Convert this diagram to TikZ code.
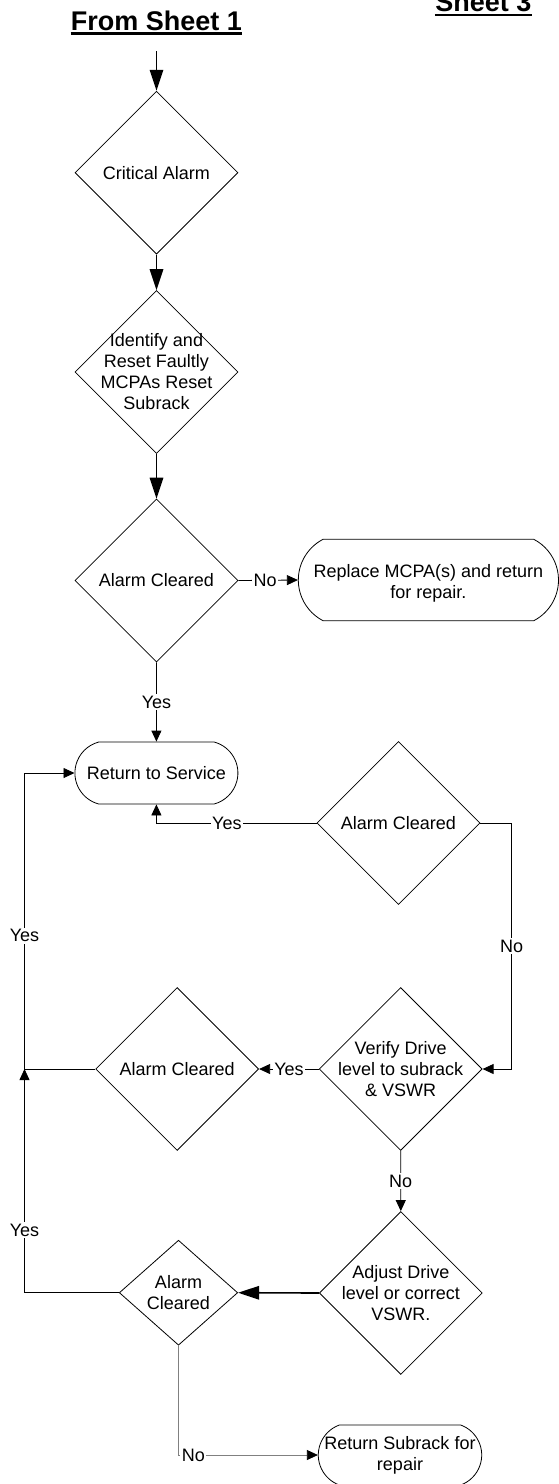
\documentclass[tikz,border=0pt]{standalone}
\usepackage{fontspec}
\setmainfont{Liberation Sans}
\usetikzlibrary{shapes.geometric,shapes.misc,arrows.meta}
\begin{document}
\begin{tikzpicture}[x=1pt,y=-1pt,
  line width=0.8pt,
  txt/.style={font=\fontsize{18}{21}\selectfont, align=center, inner sep=0pt},
  dia/.style={draw, diamond, inner sep=0pt, minimum width=#1, minimum height=#1},
  term/.style={draw, rounded rectangle, inner sep=0pt},
  lbl/.style={font=\fontsize{18}{21}\selectfont, fill=white, text=black, inner sep=1.5pt},
  arr/.style={-{Triangle[length=11pt,width=10pt]}},
  bigarr/.style={line width=1.6pt, -{Triangle[length=21pt,width=13.5pt]}},
  ttl/.style={font=\fontsize{27}{32}\selectfont\bfseries, inner sep=0pt, anchor=base},
]
\useasboundingbox (0,0) rectangle (559,1484);

% titles
\node[ttl] (t1) at (156.5,30) {From Sheet 1};
\draw[line width=2.6pt] ([yshift=-3.7pt]t1.base west) -- ([yshift=-3.7pt]t1.base east);
\node[ttl] (t2) at (483.4,11.7) {Sheet 3};
\draw[line width=2.8pt] ([yshift=-3.3pt]t2.base west) -- ([yshift=-3.3pt]t2.base east);

% shapes
\coordinate (start) at (156.5,51);
\node[dia=163, label={[txt]center:Critical Alarm}] (crit) at (156.5,172.7) {};
\node[dia=163, label={[txt]center:{Identify and\\Reset Faultly\\MCPAs Reset\\Subrack}}] (id) at (156.5,372) {};
\node[dia=163, label={[txt]center:Alarm Cleared}] (ac1) at (156.5,580.5) {};
\node[term, rounded rectangle arc length=125, minimum width=260.2, minimum height=81.4,
      label={[txt,yshift=-3pt]center:{Replace MCPA(s) and return\\for repair.}}] (rep) at (428.4,580) {};
\node[term, rounded rectangle arc length=150, minimum width=163, minimum height=62,
      label={[txt]center:Return to Service}] (rts) at (156.4,773) {};
\node[dia=163, label={[txt]center:Alarm Cleared}] (ac2) at (398.5,823) {};
\node[dia=163, label={[txt]center:Alarm Cleared}] (ac2b) at (177.2,1069) {};
\node[dia=163, label={[txt]center:{Verify Drive\\level to subrack\\\& VSWR}}] (ver) at (400.7,1069) {};
\node[dia=163, label={[txt]center:{Adjust Drive\\level or correct\\VSWR.}}] (adj) at (400.8,1293) {};
\node[dia=118.4, minimum height=105, label={[txt]center:{Alarm\\Cleared}}] (ac3) at (178.5,1292.7) {};
\node[term, rounded rectangle arc length=140, minimum width=163.4, minimum height=60,
      label={[txt]center:{Return Subrack for\\repair}}] (rsub) at (400,1455) {};

\coordinate (xl) at (24.5,0);
\coordinate (xr) at (511.7,0);
\coordinate (j) at (ac2b.west -| xl);

% connectors
\draw[bigarr] (start) -- (crit.north);
\draw[bigarr] (crit.south) -- (id.north);
\draw[bigarr] (id.south) -- (ac1.north);
\draw[arr] (ac1.east) -- node[lbl,pos=0.45]{No} (rep.west);
\draw[arr] (ac1.south) -- node[lbl]{Yes} (rts.north);
\draw[arr] (ac2.west) -- node[lbl,pos=0.56]{Yes} (ac2.west -| rts.south) -- (rts.south);
\draw[arr] (ac2.east) -- (ac2.east -| xr) -- node[lbl]{No} (ver.east -| xr) -- (ver.east);
\draw[arr] (ver.west) -- node[lbl]{Yes} (ac2b.east);
\draw[arr] (ac2b.west) -- (j) -- node[lbl,pos=0.45]{Yes} (rts.west -| xl) -- (rts.west);
\draw[arr] (ver.south) -- node[lbl]{No} (adj.north);
\draw[bigarr] (adj.west) -- (ac3.east);
\draw[arr] (ac3.west) -- (ac3.west -| xl) -- node[lbl,pos=0.28]{Yes} (j);
\draw[gray, -{Triangle[length=11pt,width=10pt,color=black]}] (ac3.south) -- (ac3.south |- rsub.west) -- node[lbl,pos=0.107]{No} (rsub.west);
\end{tikzpicture}
\end{document}
